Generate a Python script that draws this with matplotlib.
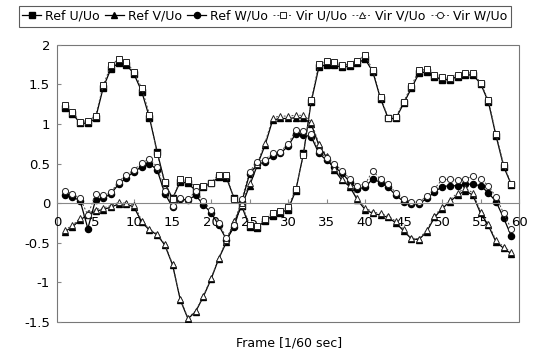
import numpy as np
import matplotlib
matplotlib.use('Agg')
import matplotlib.pyplot as plt
from matplotlib.patches import Rectangle
from matplotlib.ticker import FuncFormatter

plt.rcParams['font.family'] = 'DejaVu Sans'

# frames 1..59, values
frames = list(range(1, 60))

ref_u = [1.20, 1.13, 1.01, 1.01, 1.07, 1.46, 1.70, 1.77, 1.75, 1.63,
         1.41, 1.08, 0.65, 0.25, 0.06, 0.27, 0.25, 0.16, 0.21, 0.25,
         0.33, 0.32, 0.06, -0.04, -0.30, -0.31, -0.22, -0.16, -0.12, -0.08,
         0.16, 0.63, 1.28, 1.72, 1.75, 1.74, 1.72, 1.73, 1.77, 1.82,
         1.66, 1.32, 1.07, 1.07, 1.26, 1.45, 1.64, 1.66, 1.60, 1.56,
         1.56, 1.60, 1.62, 1.62, 1.51, 1.28, 0.85, 0.46, 0.23]
vir_u = [1.24, 1.15, 1.03, 1.04, 1.10, 1.49, 1.74, 1.82, 1.78, 1.66,
         1.45, 1.12, 0.62, 0.27, 0.05, 0.30, 0.29, 0.20, 0.22, 0.26,
         0.36, 0.35, 0.05, -0.02, -0.27, -0.29, -0.20, -0.13, -0.10, -0.05,
         0.18, 0.61, 1.30, 1.76, 1.79, 1.78, 1.74, 1.76, 1.80, 1.87,
         1.68, 1.34, 1.08, 1.09, 1.28, 1.48, 1.68, 1.69, 1.62, 1.59,
         1.58, 1.62, 1.65, 1.65, 1.52, 1.30, 0.87, 0.48, 0.24]

ref_v = [-0.36, -0.30, -0.21, -0.15, -0.10, -0.08, -0.05, -0.01, -0.01, -0.05,
         -0.24, -0.34, -0.40, -0.53, -0.78, -1.22, -1.46, -1.37, -1.18, -0.96,
         -0.70, -0.49, -0.24, -0.03, 0.22, 0.48, 0.73, 1.05, 1.07, 1.07,
         1.08, 1.08, 1.00, 0.73, 0.58, 0.42, 0.29, 0.21, 0.04, -0.08,
         -0.13, -0.15, -0.18, -0.25, -0.35, -0.45, -0.46, -0.36, -0.18, -0.07,
         0.02, 0.10, 0.16, 0.10, -0.13, -0.28, -0.49, -0.57, -0.64]
vir_v = [-0.34, -0.28, -0.19, -0.13, -0.08, -0.06, -0.03, 0.01, 0.00, -0.02,
         -0.22, -0.33, -0.39, -0.52, -0.77, -1.21, -1.45, -1.36, -1.17, -0.95,
         -0.69, -0.47, -0.22, 0.00, 0.25, 0.50, 0.76, 1.08, 1.10, 1.10,
         1.11, 1.11, 1.03, 0.75, 0.60, 0.44, 0.31, 0.23, 0.06, -0.06,
         -0.11, -0.13, -0.16, -0.23, -0.33, -0.44, -0.45, -0.34, -0.16, -0.05,
         0.04, 0.13, 0.19, 0.13, -0.11, -0.26, -0.47, -0.55, -0.62]

ref_w = [0.10, 0.08, 0.03, -0.32, 0.04, 0.06, 0.12, 0.24, 0.32, 0.40,
         0.46, 0.50, 0.42, 0.12, -0.05, 0.05, 0.04, 0.10, -0.02, -0.12,
         -0.28, -0.46, -0.30, 0.02, 0.37, 0.49, 0.52, 0.60, 0.63, 0.72,
         0.88, 0.86, 0.84, 0.63, 0.54, 0.46, 0.38, 0.27, 0.18, 0.20,
         0.31, 0.26, 0.20, 0.10, 0.02, -0.01, -0.01, 0.06, 0.14, 0.21,
         0.22, 0.22, 0.24, 0.24, 0.22, 0.13, 0.02, -0.19, -0.42]
vir_w = [0.15, 0.12, 0.06, -0.15, 0.11, 0.10, 0.14, 0.27, 0.36, 0.42,
         0.51, 0.56, 0.46, 0.15, -0.03, 0.07, 0.05, 0.15, 0.03, -0.09,
         -0.25, -0.44, -0.27, 0.05, 0.40, 0.52, 0.55, 0.63, 0.65, 0.75,
         0.92, 0.91, 0.87, 0.66, 0.57, 0.50, 0.41, 0.31, 0.22, 0.24,
         0.41, 0.30, 0.24, 0.13, 0.05, 0.02, 0.01, 0.09, 0.18, 0.30,
         0.30, 0.29, 0.31, 0.34, 0.31, 0.22, 0.08, -0.13, -0.33]

fig = plt.figure(figsize=(5.33, 3.53), dpi=100)
ax = fig.add_axes([0.107, 0.088, 0.867, 0.785])

ax.plot(frames, ref_u, color='black', lw=0.9, marker='s', ms=4.4, mfc='black', mec='black', label='Ref U/Uo')
ax.plot(frames, ref_v, color='black', lw=0.9, marker='^', ms=4.4, mfc='black', mec='black', label='Ref V/Uo')
ax.plot(frames, ref_w, color='black', lw=0.9, marker='o', ms=4.4, mfc='black', mec='black', label='Ref W/Uo')
ax.plot(frames, vir_u, color='#444444', lw=0.7, ls=(0, (2, 2)), marker='s', ms=4.4, mfc='white', mec='#222222', mew=0.7, label='Vir U/Uo')
ax.plot(frames, vir_v, color='#444444', lw=0.7, ls=(0, (2, 2)), marker='^', ms=4.4, mfc='white', mec='#222222', mew=0.7, label='Vir V/Uo')
ax.plot(frames, vir_w, color='#444444', lw=0.7, ls=(0, (2, 2)), marker='o', ms=4.4, mfc='white', mec='#222222', mew=0.7, label='Vir W/Uo')

ax.set_xlim(0, 60)
ax.set_ylim(-1.5, 2)
ax.set_xticks(np.arange(0, 61, 5))
ax.set_yticks(np.arange(-1.5, 2.01, 0.5))
ax.yaxis.set_major_formatter(FuncFormatter(lambda v, p: '%g' % v))

# category axis crosses at zero, plot area has a box
for s in ['top', 'right', 'left']:
    ax.spines[s].set_visible(False)
ax.spines['bottom'].set_position(('data', 0))
ax.spines['bottom'].set_color('#888888')
ax.spines['bottom'].set_linewidth(0.8)
ax.add_patch(Rectangle((0, 0), 1, 1, transform=ax.transAxes, fill=False,
                       edgecolor='#777777', lw=0.8, clip_on=False, zorder=0))

ax.tick_params(axis='x', direction='in', length=3, color='#888888', pad=9, labelsize=9.5)
ax.tick_params(axis='y', direction='in', length=3, color='#888888', pad=5, labelsize=9.5)

fig.text(0.542, 1 - 343 / 353, 'Frame [1/60 sec]', ha='center', va='center', fontsize=9)

handles, labels = ax.get_legend_handles_labels()
leg = fig.legend(handles, labels, loc='upper center',
                 bbox_to_anchor=(0.497, 0.99), ncol=6, fontsize=9,
                 frameon=True, fancybox=False, handlelength=1.5,
                 handletextpad=0.3, columnspacing=0.45, borderpad=0.3,
                 borderaxespad=0.2)
leg.get_frame().set_edgecolor('#333333')
leg.get_frame().set_linewidth(0.8)

fig.savefig('out.png', dpi=100)
